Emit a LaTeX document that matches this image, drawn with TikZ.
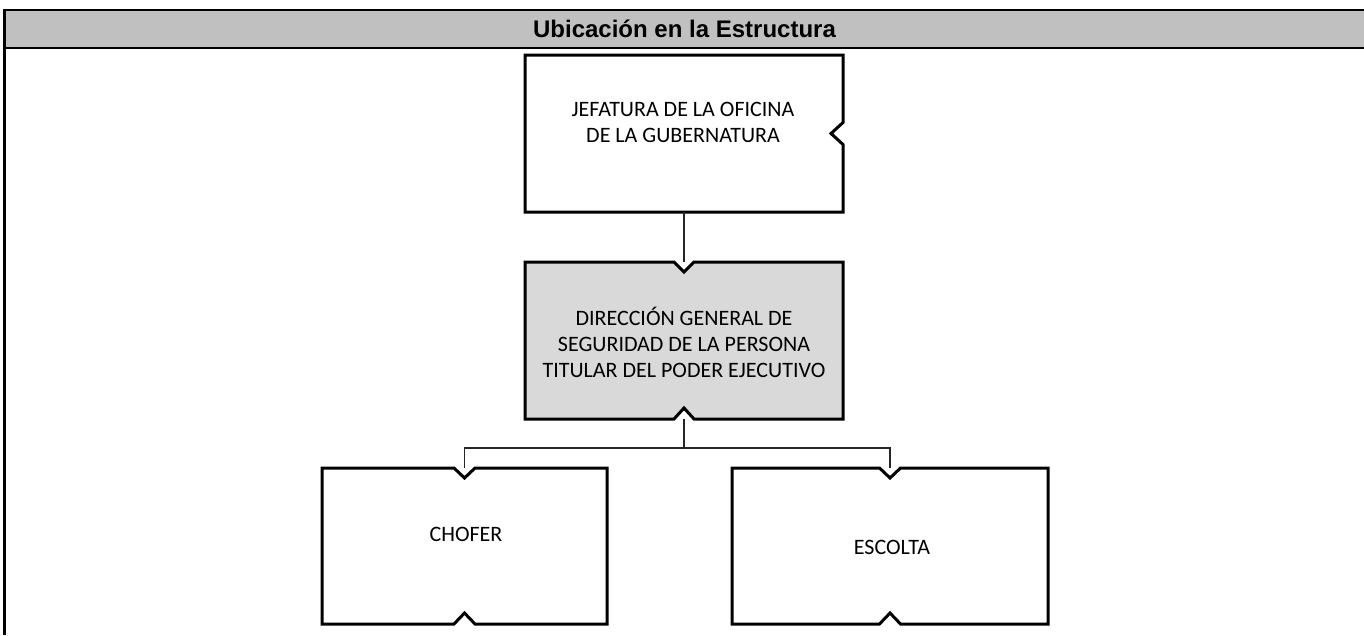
\documentclass[tikz,border=0pt]{standalone}
\usepackage{fontspec}
\setmainfont{Carlito}
\newfontfamily\hdrfont{Liberation Sans}
\usetikzlibrary{calc}
\tikzset{
  area/.style={inner sep=0pt, outer sep=0pt},
  boxline/.style={line width=3pt, line join=miter},
  lbl/.style={align=center, inner sep=0pt, font={\fontsize{22}{26}\selectfont}},
  conn/.style={line width=1.3pt, draw=black!85},
}
\definecolor{hdrgray}{HTML}{C0C0C0}
\definecolor{selgray}{HTML}{D9D9D9}
\begin{document}
\begin{tikzpicture}[x=1pt,y=-1pt]
\useasboundingbox (0,0) rectangle (1364,635);
% header
\fill[hdrgray] (4,10) rectangle (1364,48);
\draw[line width=2.6pt] (3,10) -- (1364,10);
\draw[line width=2pt] (4,48) -- (1364,48);
\draw[line width=3pt] (4,9) -- (4,635);
\node[area, font={\hdrfont\bfseries\fontsize{24}{28}\selectfont}] (hdr) at (684.5,29) {Ubicación en la Estructura};

% box areas
\node[area, minimum width=318pt, minimum height=157pt] (jef) at (684,133.5) {};
\node[area, minimum width=318pt, minimum height=157pt] (dir) at (684,340.5) {};
\node[area, minimum width=285pt, minimum height=156pt] (cho) at (464.5,546) {};
\node[area, minimum width=316pt, minimum height=156pt] (esc) at (890,546) {};

% JEFATURA: notch on right side
\draw[boxline, fill=white] (jef.north west) -- (jef.north east) -- ($(jef.east)+(0,-11)$) -- ($(jef.east)+(-12,0)$) -- ($(jef.east)+(0,11)$) -- (jef.south east) -- (jef.south west) -- cycle;
% DIRECCION: notches top and bottom
\draw[boxline, fill=selgray] (dir.north west) -- ($(dir.north)+(-10,0)$) -- ($(dir.north)+(0,10)$) -- ($(dir.north)+(10,0)$) -- (dir.north east) -- (dir.south east) -- ($(dir.south)+(10,0)$) -- ($(dir.south)+(0,-11)$) -- ($(dir.south)+(-10,0)$) -- (dir.south west) -- cycle;
% CHOFER
\draw[boxline, fill=white] (cho.north west) -- ($(cho.north)+(-10.5,0)$) -- ($(cho.north)+(0,10)$) -- ($(cho.north)+(10.5,0)$) -- (cho.north east) -- (cho.south east) -- ($(cho.south)+(10.5,0)$) -- ($(cho.south)+(0,-11)$) -- ($(cho.south)+(-10.5,0)$) -- (cho.south west) -- cycle;
% ESCOLTA
\draw[boxline, fill=white] (esc.north west) -- ($(esc.north)+(-10.5,0)$) -- ($(esc.north)+(0,10)$) -- ($(esc.north)+(10.5,0)$) -- (esc.north east) -- (esc.south east) -- ($(esc.south)+(10.5,0)$) -- ($(esc.south)+(0,-11)$) -- ($(esc.south)+(-10.5,0)$) -- (esc.south west) -- cycle;

% labels
\node[lbl] (jeft) at (683,122.5) {JEFATURA DE LA OFICINA\\DE LA GUBERNATURA};
\node[lbl] (dirt) at (684,342) {DIRECCIÓN GENERAL DE\\SEGURIDAD DE LA PERSONA\\TITULAR DEL PODER EJECUTIVO};
\node[lbl] (chot) at (466,534) {CHOFER};
\node[lbl] (esct) at (892,547) {ESCOLTA};

% connectors
\coordinate (bus) at (684,448);
\draw[conn] (jef.south) -- (dir.north);
\draw[conn] (dir.south) -- (bus);
\draw[conn] (bus) -| (cho.north);
\draw[conn] (bus) -| (esc.north);
\end{tikzpicture}
\end{document}
